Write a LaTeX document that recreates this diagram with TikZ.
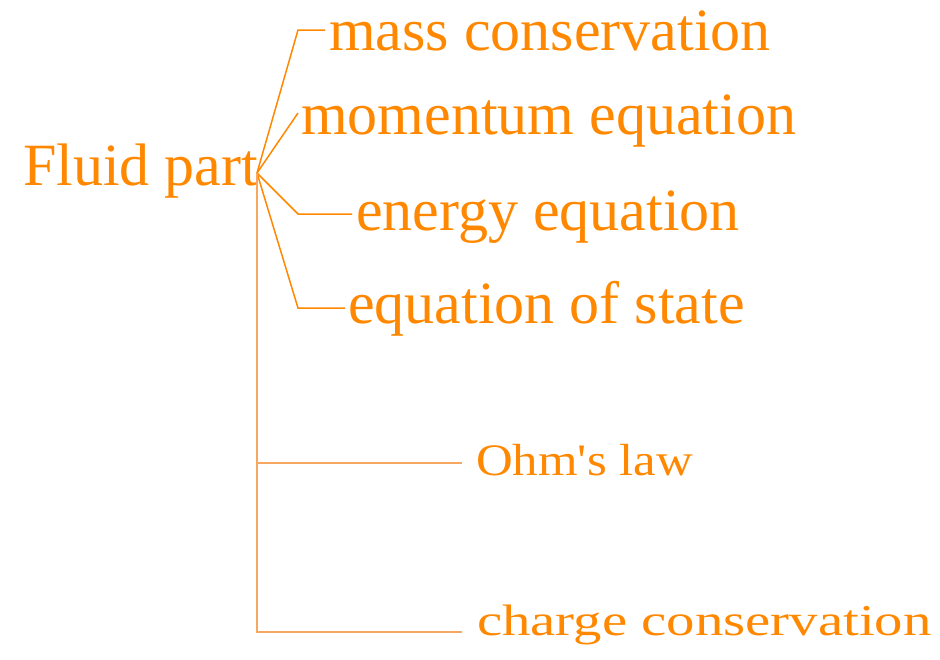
\documentclass[tikz,border=0pt]{standalone}
\usepackage{fontspec}
\setmainfont{Liberation Serif}[Ligatures=TeXOff]
\usetikzlibrary{calc}
\definecolor{orng}{RGB}{255,136,0}
\definecolor{lorng}{RGB}{246,168,96}
\begin{document}
\begin{tikzpicture}[x=1pt,y=-1pt,
  lbl/.style={anchor=base west, inner sep=0pt, text=orng, font=\fontsize{60}{60}\selectfont},
  ohmlbl/.style={lbl, font=\fontsize{45}{45}\selectfont},
  chglbl/.style={lbl, font=\fontsize{44}{44}\selectfont},
  mainline/.style={draw=orng, line width=1.5pt},
  thinline/.style={draw=lorng, line width=1.1pt}]
\useasboundingbox (0,0) rectangle (940,659);
\node[lbl] (root) at (23,185) {Fluid part};
\node[lbl] (mass) at (329,50) {mass conservation};
\node[lbl] (mom) at (301,134) {momentum equation};
\node[lbl] (energy) at (356,230) {energy equation};
\node[lbl] (state) at (348,323) {equation of state};
\node[ohmlbl] (ohm) at (476,475) {\scalebox{1.13}[1]{Ohm's law}};
\node[chglbl] (charge) at (477,635) {\scalebox{1.29}[1]{charge conservation}};
\coordinate (hub) at (257,173);
\coordinate (b1) at (298,30);
\coordinate (b2) at (298,113);
\coordinate (b3) at (298,214);
\coordinate (b4) at (298,308);
\coordinate (b5) at (257,463);
\coordinate (b6) at (257,632);
\draw[mainline] (hub) -- (b1) -- ($(mass.base west)+(-4,-20)$);
\draw[mainline] (hub) -- (b2);
\draw[mainline] (hub) -- (b3) -- ($(energy.base west)+(-4,-16)$);
\draw[mainline] (hub) -- (b4) -- ($(state.base west)+(-3,-15)$);
\draw[thinline] (hub) -- (b6) -- ($(charge.base west)+(-15,-3)$);
\draw[thinline] (b5) -- ($(ohm.base west)+(-14,-12)$);
\end{tikzpicture}
\end{document}
